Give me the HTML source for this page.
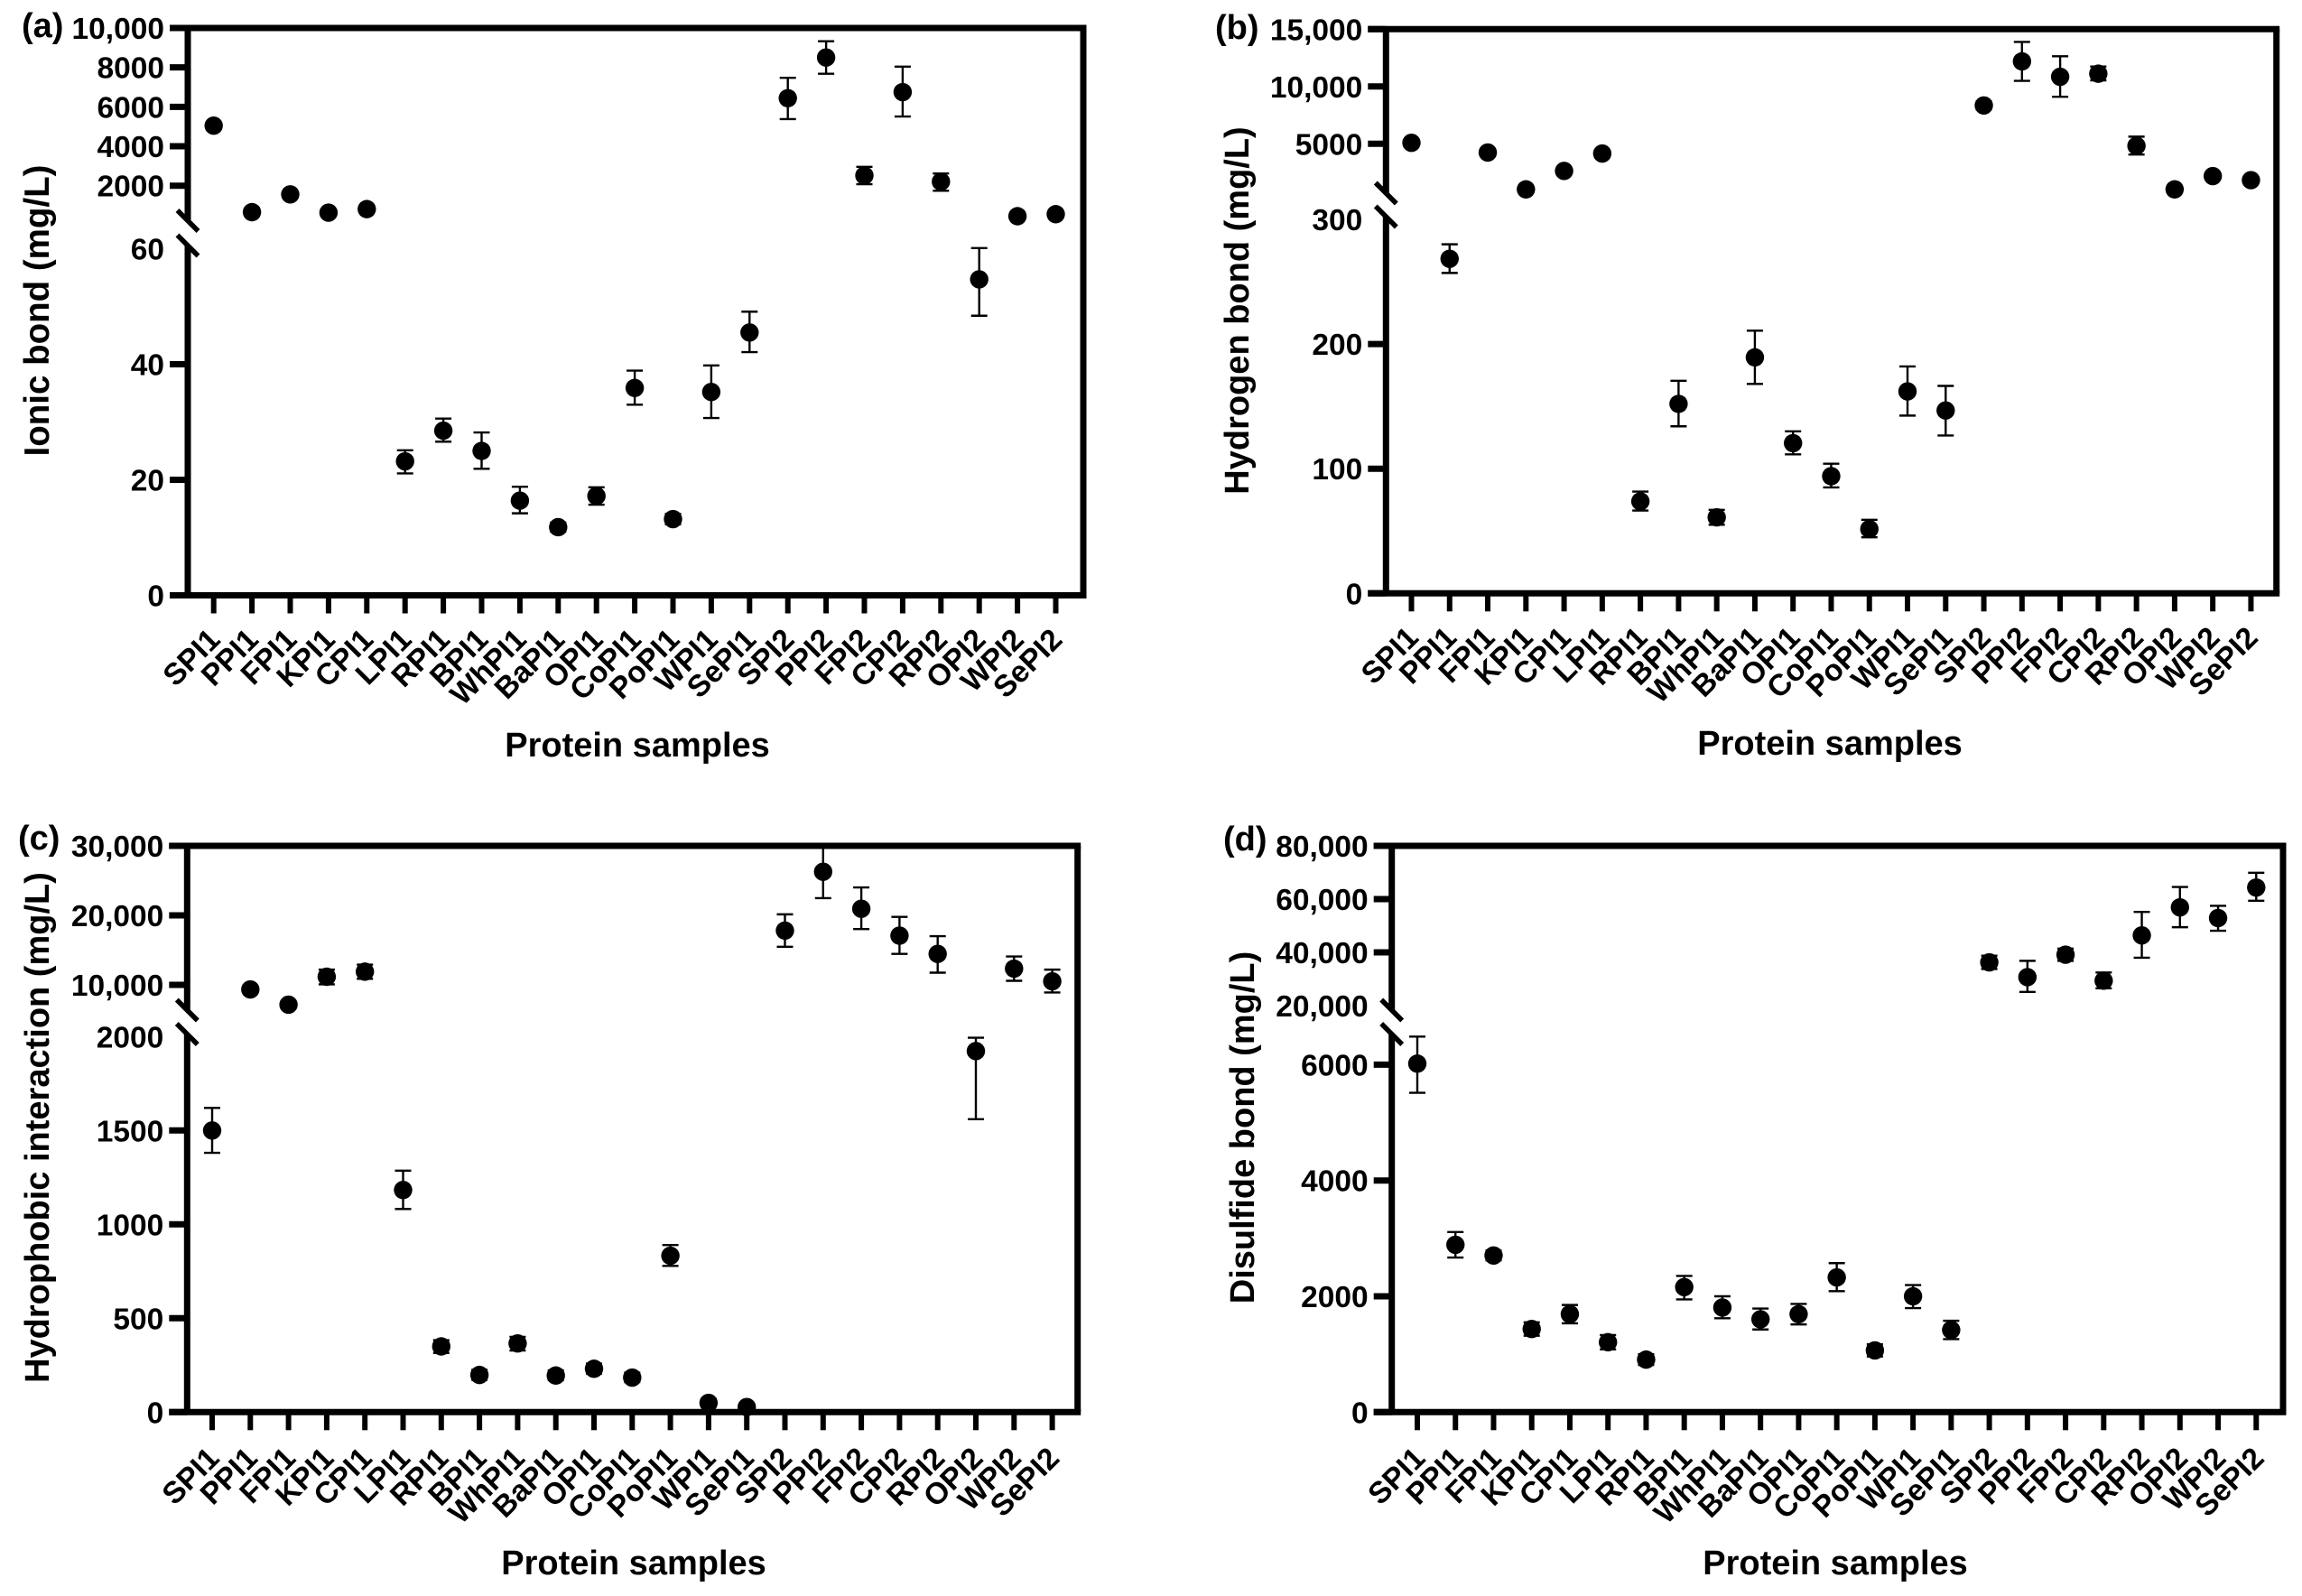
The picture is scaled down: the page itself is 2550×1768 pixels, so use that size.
<!DOCTYPE html>
<html lang="en">
<head>
<meta charset="utf-8">
<title>Protein bond charts</title>
<style>
html,body{margin:0;padding:0;background:#fff;}
svg{display:block;}
text{font-family:"Liberation Sans",Arial,sans-serif;font-weight:bold;fill:#000;}
</style>
</head>
<body>
<svg id="figure" xmlns="http://www.w3.org/2000/svg" width="2550" height="1768" viewBox="0 0 2550 1768">
  <rect x="0" y="0" width="2550" height="1768" fill="#fff"/>
  <g id="panel-a">
    <text x="24" y="41" font-size="38">(a)</text>
    <text transform="translate(54,344) rotate(-90)" text-anchor="middle" font-size="38.5">Ionic bond (mg/L)</text>
    <text x="706" y="838" text-anchor="middle" font-size="38">Protein samples</text>
  </g>
  <g id="panel-b">
    <text x="1346" y="43" font-size="38">(b)</text>
    <text transform="translate(1383,344) rotate(-90)" text-anchor="middle" font-size="38">Hydrogen bond (mg/L)</text>
    <text x="2027" y="836" text-anchor="middle" font-size="38">Protein samples</text>
  </g>
  <g id="panel-c">
    <text x="20" y="941" font-size="38">(c)</text>
    <text transform="translate(54,1249) rotate(-90)" text-anchor="middle" font-size="38">Hydrophobic interaction (mg/L)</text>
    <text x="702" y="1744" text-anchor="middle" font-size="38">Protein samples</text>
  </g>
  <g id="panel-d">
    <text x="1355" y="942" font-size="38">(d)</text>
    <text transform="translate(1389,1249) rotate(-90)" text-anchor="middle" font-size="38">Disulfide bond (mg/L)</text>
    <text x="2033" y="1744" text-anchor="middle" font-size="38">Protein samples</text>
  </g>
</svg>
<script>
const categories = ['SPI1','PPI1','FPI1','KPI1','CPI1','LPI1','RPI1','BPI1','WhPI1','BaPI1','OPI1','CoPI1','PoPI1','WPI1','SePI1','SPI2','PPI2','FPI2','CPI2','RPI2','OPI2','WPI2','SePI2'];

const ionicMeans = [5045,658,1561,632,813,23.2,28.5,25.0,16.4,11.8,17.2,35.9,13.2,35.2,45.5,6439,8503,2516,6748,2206,54.7,452,555];
const ionicHigh  = [5150,720,1630,690,880,25.1,30.6,28.2,18.8,12.6,18.7,38.9,14.1,39.8,49.1,7471,9329,2955,8039,2619,60.1,510,610];
const ionicLow   = [4940,600,1490,575,745,21.1,26.6,21.9,14.2,11.0,15.7,33.0,12.3,30.7,42.1,5380,7677,2077,5510,1742,48.4,395,500];
const ionicUpperTicks = [2000,4000,6000,8000,10000];
const ionicLowerTicks = [0,20,40,60];

const hydrogenMeans = [5089,268.4,4241,1027,2634,4152,73.8,152,61,189.3,120.5,94,51.6,162,146.7,8348,12188,10848,11116,4821,1027,2187,1830];
const hydrogenHigh  = [5300,280,4450,1230,2850,4370,81.6,170.5,67,210.7,130,104,59,182,166.4,8700,13884,12634,11741,5625,1230,2400,2040];
const hydrogenLow   = [4880,257,4030,820,2420,3940,66.4,134,55,168,111.5,85,45,142.6,126.6,8000,10491,9107,10536,4063,820,1970,1620];
const hydrogenUpperTicks = [5000,10000,15000];
const hydrogenLowerTicks = [0,100,200,300];

const hydrophobicMeans = [1500,9343,7153,11168,11898,1183,350,198,366,195,231,184,833,49,27,17810,26277,20949,17080,14453,1923,12336,10511];
const hydrophobicHigh  = [1620,9800,7600,12190,12920,1286,383,225,401,222,258,210,890,70,45,20146,30000,24015,19781,17007,1994,14088,12190];
const hydrophobicLow   = [1381,8900,6700,10073,10876,1082,315,172,328,170,205,160,779,30,10,15474,22482,18029,14453,11752,1560,10584,8905];
const hydrophobicUpperTicks = [10000,20000,30000];
const hydrophobicLowerTicks = [0,500,1000,1500,2000];

const disulfideMeans = [6018,2890,2705,1436,1692,1207,907,2159,1806,1604,1692,2326,1066,2000,1419,36252,30707,39120,29369,46386,56902,52887,64359];
const disulfideHigh  = [6485,3110,2790,1550,1850,1330,1000,2352,2000,1789,1868,2573,1170,2194,1577,38738,36826,41415,32428,55182,64551,57476,69904];
const disulfideLow   = [5515,2670,2620,1320,1533,1084,815,1947,1621,1427,1515,2088,960,1797,1260,33767,25162,36826,26501,37973,49446,48107,59388];
const disulfideUpperTicks = [20000,40000,60000,80000];
const disulfideLowerTicks = [0,2000,4000,6000];

const SVG_NS = 'http://www.w3.org/2000/svg';

function mk(parent, tag, attrs) {
  const el = document.createElementNS(SVG_NS, tag);
  for (const k in attrs) el.setAttribute(k, attrs[k]);
  parent.appendChild(el);
  return el;
}

function linearScale(v0, p0, v1, p1) {
  return function (v) { return p0 + (v - v0) * (p1 - p0) / (v1 - v0); };
}

function formatTick(v) {
  return v >= 10000 ? String(v).replace(/\B(?=(\d{3})+$)/g, ',') : String(v);
}

function drawPanel(cfg) {
  const host = document.getElementById(cfg.id);
  const yUpper = linearScale(cfg.upper[0], cfg.upper[1], cfg.upper[2], cfg.upper[3]);
  const yLower = linearScale(cfg.lower[0], cfg.lower[1], cfg.lower[2], cfg.lower[3]);
  const xScale = function (i) { return cfg.xFirst + i * cfg.xStep; };
  const AXIS = 7;
  const TICK = 20;

  const topAxis = mk(host, 'line', {x1: cfg.left - TICK, y1: cfg.top, x2: cfg.right + 3.5, y2: cfg.top, stroke: '#000', 'stroke-width': AXIS});
  
  

  const bottomAxis = mk(host, 'line', {x1: cfg.left - TICK, y1: cfg.bottom, x2: cfg.right + 3.5, y2: cfg.bottom, stroke: '#000', 'stroke-width': AXIS});
  
  

  const rightAxis = mk(host, 'line', {x1: cfg.right, y1: cfg.top, x2: cfg.right, y2: cfg.bottom, stroke: '#000', 'stroke-width': AXIS});
  
  

  const upperAxis = mk(host, 'line', {x1: cfg.left, y1: cfg.top, x2: cfg.left, y2: cfg.break1 + 11, stroke: '#000', 'stroke-width': AXIS});
  
  

  const lowerAxis = mk(host, 'line', {x1: cfg.left, y1: cfg.break2 + 11, x2: cfg.left, y2: cfg.bottom, stroke: '#000', 'stroke-width': AXIS});
  
  

  [cfg.break1, cfg.break2].forEach(function (by) {
    const slash = mk(host, 'line', {x1: cfg.left - 11.5, y1: by, x2: cfg.left + 11.5, y2: by + 23, stroke: '#000', 'stroke-width': 5.5});
    
    
  });

  function yTick(v, y) {
    if (v !== cfg.noTick) {
      const t = mk(host, 'line', {x1: cfg.left - TICK, y1: y, x2: cfg.left, y2: y, stroke: '#000', 'stroke-width': AXIS});
      
      
    }
    const lab = mk(host, 'text', {x: cfg.left - 26, y: y + 12, 'text-anchor': 'end', 'font-size': 33.5});
    
    
    lab.textContent = formatTick(v);
  }
  cfg.upperTicks.forEach(function (v) { yTick(v, yUpper(v)); });
  cfg.lowerTicks.forEach(function (v) { yTick(v, yLower(v)); });

  categories.forEach(function (name, i) {
    const x = xScale(i);
    const tick = mk(host, 'line', {x1: x, y1: cfg.bottom, x2: x, y2: cfg.bottom + 20, stroke: '#000', 'stroke-width': 6});
    
    

    const lab = mk(host, 'text', {'text-anchor': 'end', 'font-size': 33.5, transform: 'translate(' + (x + cfg.labelDx) + ',' + (cfg.bottom + cfg.labelDy) + ') rotate(-45)'});
    
    
    lab.textContent = name;

    const m = cfg.means[i];
    const y = m > cfg.breakAt ? yUpper : yLower;
    const hi = y(cfg.high[i]);
    const lo = y(cfg.low[i]);

    const stem = mk(host, 'line', {x1: x, y1: hi, x2: x, y2: lo, stroke: '#000', 'stroke-width': 2.4});
    
    

    const capTop = mk(host, 'line', {x1: x - 9, y1: hi, x2: x + 9, y2: hi, stroke: '#000', 'stroke-width': 2.4});
    
    

    const capBottom = mk(host, 'line', {x1: x - 9, y1: lo, x2: x + 9, y2: lo, stroke: '#000', 'stroke-width': 2.4});
    
    

    const dot = mk(host, 'circle', {cx: x, cy: y(m), r: 10.2, fill: '#000'});
    
    
  });
}

drawPanel({id: 'panel-a', left: 208, right: 1200, top: 31, bottom: 659.5, xFirst: 236.7, xStep: 42.4,
  upper: [2000, 205.7, 10000, 31], lower: [0, 659.5, 60, 275.5], breakAt: 100, noTick: 60,
  break1: 233, break2: 260.5, labelDx: 9, labelDy: 51,
  upperTicks: ionicUpperTicks, lowerTicks: ionicLowerTicks,
  means: ionicMeans, high: ionicHigh, low: ionicLow});

drawPanel({id: 'panel-b', left: 1535.3, right: 2521.7, top: 32.3, bottom: 657.3, xFirst: 1563.5, xStep: 42.27,
  upper: [5000, 159.3, 15000, 32.3], lower: [0, 657.3, 300, 243], breakAt: 320, noTick: 300,
  break1: 202.5, break2: 228.5, labelDx: 9.5, labelDy: 51,
  upperTicks: hydrogenUpperTicks, lowerTicks: hydrogenLowerTicks,
  means: hydrogenMeans, high: hydrogenHigh, low: hydrogenLow});

drawPanel({id: 'panel-c', left: 207.3, right: 1193.7, top: 937, bottom: 1564.3, xFirst: 235, xStep: 42.3,
  upper: [10000, 1091, 30000, 937], lower: [0, 1564.3, 2000, 1148.3], breakAt: 2500, noTick: 2000,
  break1: 1107.5, break2: 1134, labelDx: 9.7, labelDy: 53,
  upperTicks: hydrophobicUpperTicks, lowerTicks: hydrophobicLowerTicks,
  means: hydrophobicMeans, high: hydrophobicHigh, low: hydrophobicLow});

drawPanel({id: 'panel-d', left: 1541.7, right: 2529, top: 937, bottom: 1564.3, xFirst: 1570, xStep: 42.24,
  upper: [40000, 1055, 80000, 937], lower: [0, 1564.3, 6000, 1179.4], breakAt: 8000, noTick: 20000,
  break1: 1107.5, break2: 1134, labelDx: 10.5, labelDy: 53,
  upperTicks: disulfideUpperTicks, lowerTicks: disulfideLowerTicks,
  means: disulfideMeans, high: disulfideHigh, low: disulfideLow});
</script>
</body>
</html>
